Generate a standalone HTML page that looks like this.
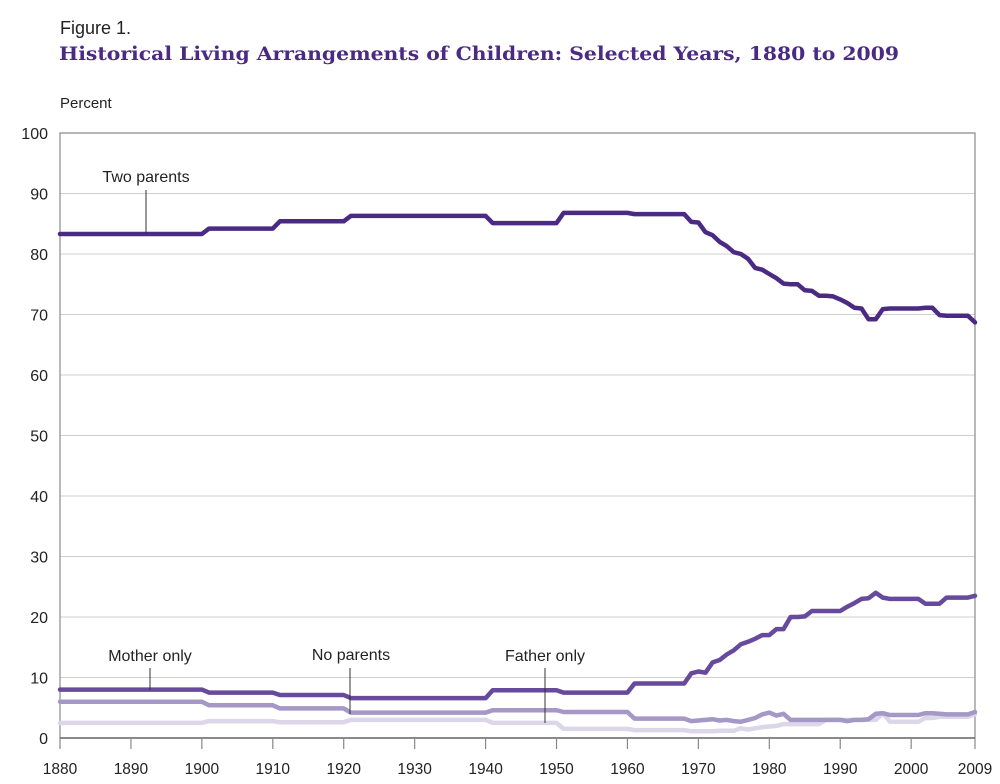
<!DOCTYPE html>
<html><head><meta charset="utf-8">
<style>
body{margin:0;background:#fff;}
svg{display:block;font-family:"Liberation Sans","DejaVu Sans",sans-serif;}
.title{font-family:"DejaVu Serif","Liberation Serif",serif;font-weight:bold;font-size:19px;fill:#4b2a84;}
</style></head>
<body>
<svg id="chart" width="1000" height="784" viewBox="0 0 1000 784">
<text x="60" y="34" font-size="18" fill="#222">Figure 1.</text>
<text class="title" x="59" y="60" textLength="840" lengthAdjust="spacingAndGlyphs">Historical Living Arrangements of Children: Selected Years, 1880 to 2009</text>
<text x="60" y="108" font-size="15" fill="#222">Percent</text>
<g id="grid"></g><g id="series"></g><g id="labels"></g>
</svg>
<script>
const yTicks=[0,10,20,30,40,50,60,70,80,90,100];
const xTicks=[1880,1890,1900,1910,1920,1930,1940,1950,1960,1970,1980,1990,2000,2009];
const twoYears=[1880,1900,1901,1910,1911,1920,1921,1940,1941,1950,1951,1960,1961,1968,1969,1970,1971,1972,1973,1974,1975,1976,1977,1978,1979,1980,1981,1982,1983,1984,1985,1986,1987,1988,1989,1990,1991,1992,1993,1994,1995,1996,1997,2001,2002,2003,2004,2005,2008,2009];
const twoParents=[83.3,83.3,84.2,84.2,85.4,85.4,86.3,86.3,85.1,85.1,86.8,86.8,86.6,86.6,85.3,85.2,83.6,83.1,82,81.3,80.3,80,79.2,77.7,77.4,76.7,76,75.1,75,75,74,73.9,73.1,73.1,73,72.5,71.9,71.1,71,69.2,69.2,70.9,71,71,71.1,71.1,69.9,69.8,69.8,68.7];
const annYears=[1880,1900,1901,1910,1911,1920,1921,1940,1941,1950,1951,1960,1961,1968,1969,1970,1971,1972,1973,1974,1975,1976,1977,1978,1979,1980,1981,1982,1983,1984,1985,1986,1987,1988,1989,1990,1991,1992,1993,1994,1995,1996,1997,2001,2002,2003,2004,2005,2008,2009];
const motherOnly=[8,8,7.5,7.5,7.1,7.1,6.6,6.6,7.9,7.9,7.5,7.5,9,9,10.7,11,10.8,12.5,12.9,13.8,14.5,15.5,15.9,16.4,17,17,18,18,20,20,20.1,21,21,21,21,21,21.7,22.3,23,23.1,24,23.2,23,23,22.2,22.2,22.2,23.2,23.2,23.5];
const noParents=[6,6,5.4,5.4,4.9,4.9,4.2,4.2,4.6,4.6,4.3,4.3,3.2,3.2,2.8,2.9,3,3.1,2.9,3,2.8,2.7,3,3.3,3.9,4.2,3.7,4,3,3,3,3,3,3,3,3,2.8,3,3,3.1,4,4.1,3.8,3.8,4.1,4.1,4,3.9,3.9,4.3];
const fatherOnly=[2.5,2.5,2.8,2.8,2.6,2.6,3,3,2.5,2.5,1.5,1.5,1.3,1.3,1.1,1.1,1.1,1.1,1.2,1.2,1.2,1.6,1.4,1.6,1.8,1.9,2,2.3,2.3,2.3,2.3,2.3,2.3,3,3,3,3,3,3,3,3,4.1,2.7,2.7,3.3,3.3,3.5,3.5,3.5,3.9];

const X0=60,X1=975,Y0=738,Y1=133;
const x=v=>X0+(v-1880)/(2009-1880)*(X1-X0);
const y=v=>Y0-v/100*(Y0-Y1);
const NS="http://www.w3.org/2000/svg";
function mk(tag,attrs,parent,txt){const e=document.createElementNS(NS,tag);for(const k in attrs)e.setAttribute(k,attrs[k]);if(txt!==undefined)e.textContent=txt;parent.appendChild(e);return e;}
const grid=document.getElementById('grid');
yTicks.forEach(t=>{
  if(t>0&&t<100){const l=mk('line',{x1:X0,x2:X1,y1:y(t),y2:y(t),stroke:'#cfcfcf','stroke-width':1},grid);
  
  }
  const tx=mk('text',{x:48,y:y(t)+6,'text-anchor':'end','font-size':16,fill:'#222'},grid,String(t));
  
  
});
const frame=mk('path',{d:`M${X0},${Y0}V${Y1}H${X1}V${Y0}`,fill:'none',stroke:'#8a8a8a','stroke-width':1.2},grid);


const ax=mk('line',{x1:X0,x2:X1,y1:Y0,y2:Y0,stroke:'#444','stroke-width':1.3},grid);


xTicks.forEach(t=>{
  const tk=mk('line',{x1:x(t),x2:x(t),y1:Y0,y2:Y0+11,stroke:'#888','stroke-width':1.2},grid);
  
  
  const tx=mk('text',{x:x(t),y:774,'text-anchor':'middle','font-size':15.5,fill:'#222'},grid,String(t));
  
  
});
const ser=document.getElementById('series');
function line(yrs,vals,color,name){
  const d=yrs.map((yr,i)=>(i?'L':'M')+x(yr).toFixed(1)+','+y(vals[i]).toFixed(1)).join('');
  const p=mk('path',{d:d,fill:'none',stroke:color,'stroke-width':4.5,'stroke-linejoin':'round','stroke-linecap':'round'},ser);
  
  
}
line(annYears,fatherOnly,'#dbd6e8','father-only-line');
line(annYears,noParents,'#a598c6','no-parents-line');
line(annYears,motherOnly,'#674a9c','mother-only-line');
line(twoYears,twoParents,'#4b2a84','two-parents-line');
const lab=document.getElementById('labels');
function label(txt,tx,ty,lx,ly1,ly2,name){
  const t=mk('text',{x:tx,y:ty,'text-anchor':'middle','font-size':16,fill:'#222'},lab,txt);
  
  
  const l=mk('line',{x1:lx,x2:lx,y1:ly1,y2:ly2,stroke:'#333','stroke-width':1},lab);
  
  
}
label('Two parents',146,182,146,190,234,'two-parents');
label('Mother only',150,661,150,668,690,'mother-only');
label('No parents',351,660,350,668,714,'no-parents');
label('Father only',545,661,545,668,723,'father-only');
</script>
</body></html>
